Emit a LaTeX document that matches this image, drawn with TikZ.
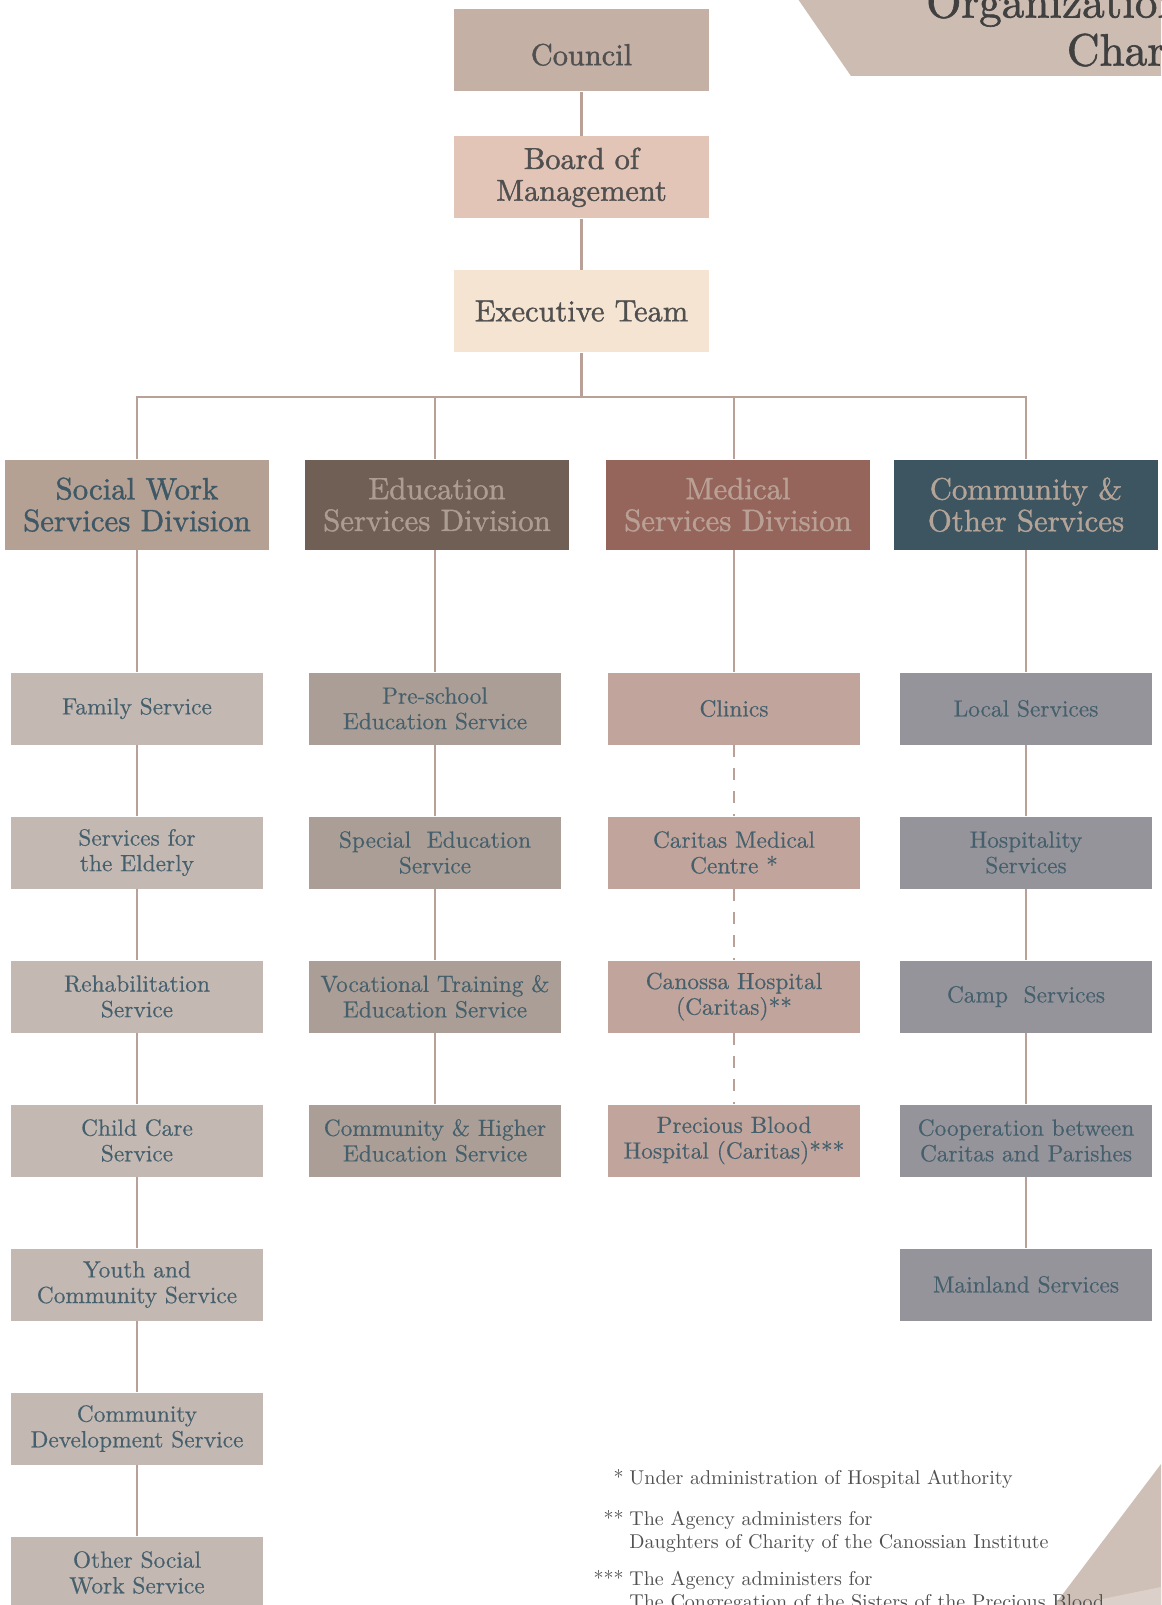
\documentclass[tikz,border=0pt]{standalone}
\usepackage{fontspec}
\usepackage{tikz}
\usetikzlibrary{positioning}
\newfontfamily\headfont{lmroman10-regular.otf}[FakeBold=1.3]
\newfontfamily\bodyfont{lmroman10-regular.otf}[FakeBold=0.4]
\definecolor{banner}{HTML}{CCBCB2}
\definecolor{councilfill}{HTML}{C4B0A5}
\definecolor{boardfill}{HTML}{E3C5B8}
\definecolor{execfill}{HTML}{F5E4D1}
\definecolor{topgray}{HTML}{505050}
\definecolor{titlegray}{HTML}{404040}
\definecolor{swdiv}{HTML}{B5A094}
\definecolor{eddiv}{HTML}{705F55}
\definecolor{mddiv}{HTML}{95645A}
\definecolor{codiv}{HTML}{3D5461}
\definecolor{swtext}{HTML}{3E5866}
\definecolor{edtext}{HTML}{AC9D93}
\definecolor{mdtext}{HTML}{B9A095}
\definecolor{cotext}{HTML}{B4A397}
\definecolor{swsub}{HTML}{C4B8B3}
\definecolor{edsub}{HTML}{AB9E96}
\definecolor{mdsub}{HTML}{C1A49B}
\definecolor{cosub}{HTML}{96949B}
\definecolor{subtext}{HTML}{45606C}
\definecolor{linecol}{HTML}{B9A197}
\definecolor{corner}{HTML}{CEC0B7}
\definecolor{cornerlight}{HTML}{DCD1CA}
\tikzset{
  box/.style={shape=rectangle,inner sep=1pt,align=center},
  topbox/.style={box,minimum width=127.5pt,minimum height=41pt,text=topgray,
    font=\headfont\fontsize{15.2}{15.9}\selectfont},
  divbox/.style={box,minimum width=132pt,minimum height=45pt,
    font=\headfont\fontsize{15.4}{15.9}\selectfont},
  subbox/.style={box,minimum width=126pt,minimum height=36pt,text=subtext,
    font=\bodyfont\fontsize{11.7}{12.8}\selectfont},
  note/.style={inner sep=0,text=topgray,align=left,font=\fontsize{10}{11.3}\selectfont},
  link/.style={draw=linecol,line width=1.25pt}
}

\begin{document}
\begin{tikzpicture}[x=0.5pt,y=-0.5pt]
  \useasboundingbox (0,0) rectangle (1161,1605);
  % title banner and corner
  \fill[banner] (798.6,0) -- (1161,0) -- (1161,75.8) -- (850.8,75.8) -- cycle;
  \node[inner sep=0,anchor=base east,align=right,text=titlegray,
    font=\headfont\fontsize{22.6}{24}\selectfont] (title) at (1183,65.5) {Organization\\Chart};
  \fill[corner] (1161,1464) -- (1054.5,1605) -- (1161,1605) -- cycle;
  \fill[cornerlight] (1073,1605) -- (1161,1587) -- (1161,1605) -- cycle;

  \node[topbox,fill=councilfill,text height=15pt] (council) at (581.5,50.5) {Council};
  \node[topbox,fill=boardfill,below=22pt of council] (board) {Board of\\Management};
  \node[topbox,fill=execfill,below=25.5pt of board] (exec) {Executive Team};
  \coordinate (bus) at (581.5,397);

  \node[divbox,fill=swdiv,text=swtext] (sw) at (137,504.7) {Social Work\\Services Division};
  \node[divbox,fill=eddiv,text=edtext] (ed) at (437,504.7) {Education\\Services Division};
  \node[divbox,fill=mddiv,text=mdtext] (md) at (738,504.7) {Medical\\Services Division};
  \node[divbox,fill=codiv,text=cotext] (co) at (1026,504.7) {Community \&\\Other Services};

  \foreach \t [count=\i] in {Family Service, {Services for\\the Elderly},
      {Rehabilitation\\Service}, {Child Care\\Service}, {Youth and\\Community Service},
      {Community\\Development Service}, {Other Social\\Work Service}}
    \node[subbox,fill=swsub] (sw\i) at (137,{708.5+144*(\i-1)}) {\t};
  \foreach \t [count=\i] in {{Pre-school\\Education Service}, {Special~~Education\\Service},
      {Vocational Training \&\\Education Service}, {Community \& Higher\\Education Service}}
    \node[subbox,fill=edsub] (ed\i) at (435,{708.5+144*(\i-1)}) {\t};
  \foreach \t [count=\i] in {Clinics, {Caritas Medical\\Centre *},
      {Canossa Hospital\\(Caritas)**}, {Precious Blood\\Hospital (Caritas)***}}
    \node[subbox,fill=mdsub] (md\i) at (734,{708.5+144*(\i-1)}) {\t};
  \foreach \t [count=\i] in {Local Services, {Hospitality\\Services}, Camp~~Services,
      {Cooperation between\\Caritas and Parishes}, Mainland Services}
    \node[subbox,fill=cosub] (co\i) at (1026,{708.5+144*(\i-1)}) {\t};

  \draw[link] (council) -- (board);
  \draw[link] (board) -- (exec);
  \draw[link] (exec) -- (bus);
  \foreach \d in {sw,ed,md,co} {
    \draw[link] (\d1 |- \d.north) |- (bus);
    \draw[link] (\d1) -- (\d1 |- \d.south);
  }
  \foreach \i [evaluate=\i as \j using int(\i+1)] in {1,...,6}
    \draw[link] (sw\i) -- (sw\j);
  \foreach \i [evaluate=\i as \j using int(\i+1)] in {1,...,3}
    \draw[link] (ed\i) -- (ed\j);
  \foreach \i [evaluate=\i as \j using int(\i+1)] in {1,...,3}
    \draw[link,dash pattern=on 6pt off 5.5pt] (md\i) -- (md\j);
  \foreach \i [evaluate=\i as \j using int(\i+1)] in {1,...,4}
    \draw[link] (co\i) -- (co\j);

  % notes
  \node[note,anchor=base east] (s1) at (624,1484.5) {*};
  \node[note,anchor=base west] (n1) at (629,1484.5) {Under administration of Hospital Authority};
  \node[note,anchor=base east] (s2) at (624,1525.4) {**};
  \node[note,anchor=base west] (n2) at (629,1548) {The Agency administers for\\Daughters of Charity of the Canossian Institute};
  \node[note,anchor=base east] (s3) at (624,1585.9) {***};
  \node[note,anchor=base west] (n3) at (629,1608.4) {The Agency administers for\\The Congregation of the Sisters of the Precious Blood};
\end{tikzpicture}
\end{document}
